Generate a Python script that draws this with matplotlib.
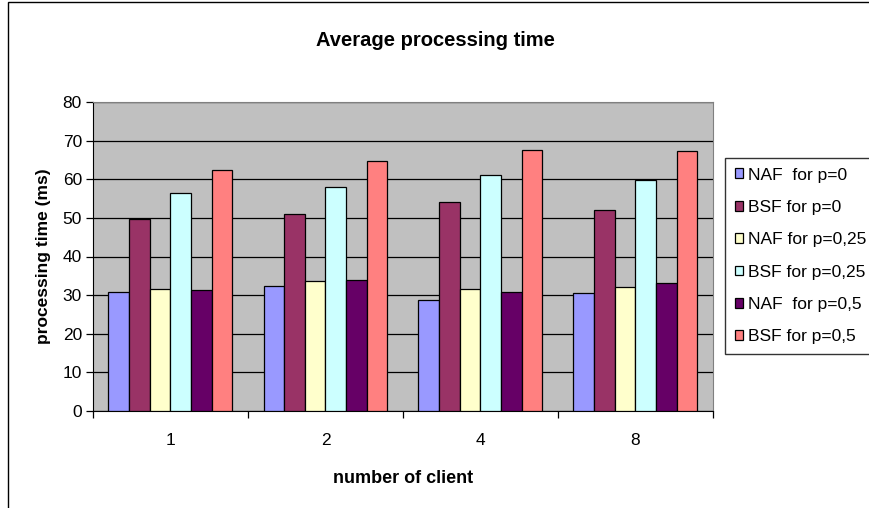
import numpy as np
import matplotlib
matplotlib.use("Agg")
import matplotlib.pyplot as plt
from matplotlib.patches import Rectangle

# данные
clients = ["1", "2", "4", "8"]
series_names = ["NAF  for p=0", "BSF for p=0", "NAF for p=0,25",
                "BSF for p=0,25", "NAF  for p=0,5", "BSF for p=0,5"]
naf_p0 = [30.8, 32.4, 28.8, 30.5]
bsf_p0 = [49.6, 50.9, 54.1, 52.1]
naf_p025 = [31.6, 33.6, 31.6, 32.0]
bsf_p025 = [56.4, 58.1, 61.2, 59.8]
naf_p05 = [31.2, 34.0, 30.8, 33.2]
bsf_p05 = [62.5, 64.6, 67.7, 67.4]
colors = ["#9999FF", "#993366", "#FFFFCC", "#CCFFFF", "#660066", "#FF8080"]

plt.rcParams['font.family'] = ['Liberation Sans', 'DejaVu Sans']

fig = plt.figure(figsize=(8.7, 5.08), dpi=100)
W, H = 870, 508
ax = fig.add_axes([93 / W, 1 - 411 / H, 620 / W, 309 / H])

# рамка вокруг всей диаграммы
fig.patches.append(Rectangle((8.5 / W, -0.01), 1.0, 1 - 2 / H + 0.01, transform=fig.transFigure,
                             fill=False, edgecolor="black", linewidth=1.0))

all_series = [naf_p0, bsf_p0, naf_p025, bsf_p025, naf_p05, bsf_p05]
x = np.arange(len(clients))
w = 1 / 7.5
for i, vals in enumerate(all_series):
    ax.bar(x + (i - 2.5) * w, vals, width=w, color=colors[i], edgecolor="black",
           linewidth=0.9, label=series_names[i], zorder=3)

ax.set_facecolor("#C0C0C0")
ax.set_xlim(-0.5, len(clients) - 0.5)
ax.set_ylim(0, 80)
ax.set_yticks(range(0, 81, 10))
ax.yaxis.grid(True, color="black", linewidth=0.9, zorder=1)
ax.set_axisbelow(True)

ax.set_xticks(x)
ax.set_xticklabels(clients, fontsize=12.5)
ax.set_xticks(np.arange(-0.5, len(clients)), minor=True)
ax.tick_params(axis="x", which="major", length=0, pad=16)
ax.tick_params(axis="x", which="minor", length=5, width=0.9)
ax.tick_params(axis="y", length=5, width=0.9, labelsize=12.5, pad=3)

for s in ["top", "right"]:
    ax.spines[s].set_color("#808080")
ax.spines["left"].set_color("black")
ax.spines["bottom"].set_color("black")

fig.text(435 / W, 1 - 40 / H, "Average processing time", fontsize=14.5, fontweight="bold",
         ha="center", va="center")
ax.set_xlabel("number of client", fontsize=13, fontweight="bold", labelpad=16)
ax.set_ylabel("processing time (ms)", fontsize=12.5, fontweight="bold", labelpad=8)

# легенда справа, как в оригинале
leg = ax.legend(loc="upper left", bbox_to_anchor=(725 / W, 1 - 158 / H), bbox_transform=fig.transFigure,
                fontsize=12.5, frameon=True, fancybox=False, edgecolor="black",
                handlelength=0.5, handleheight=0.5, handletextpad=0.25,
                labelspacing=1.0, borderpad=0.55, borderaxespad=0)
leg.get_frame().set_linewidth(1.0)

plt.savefig("out.png", dpi=100)
